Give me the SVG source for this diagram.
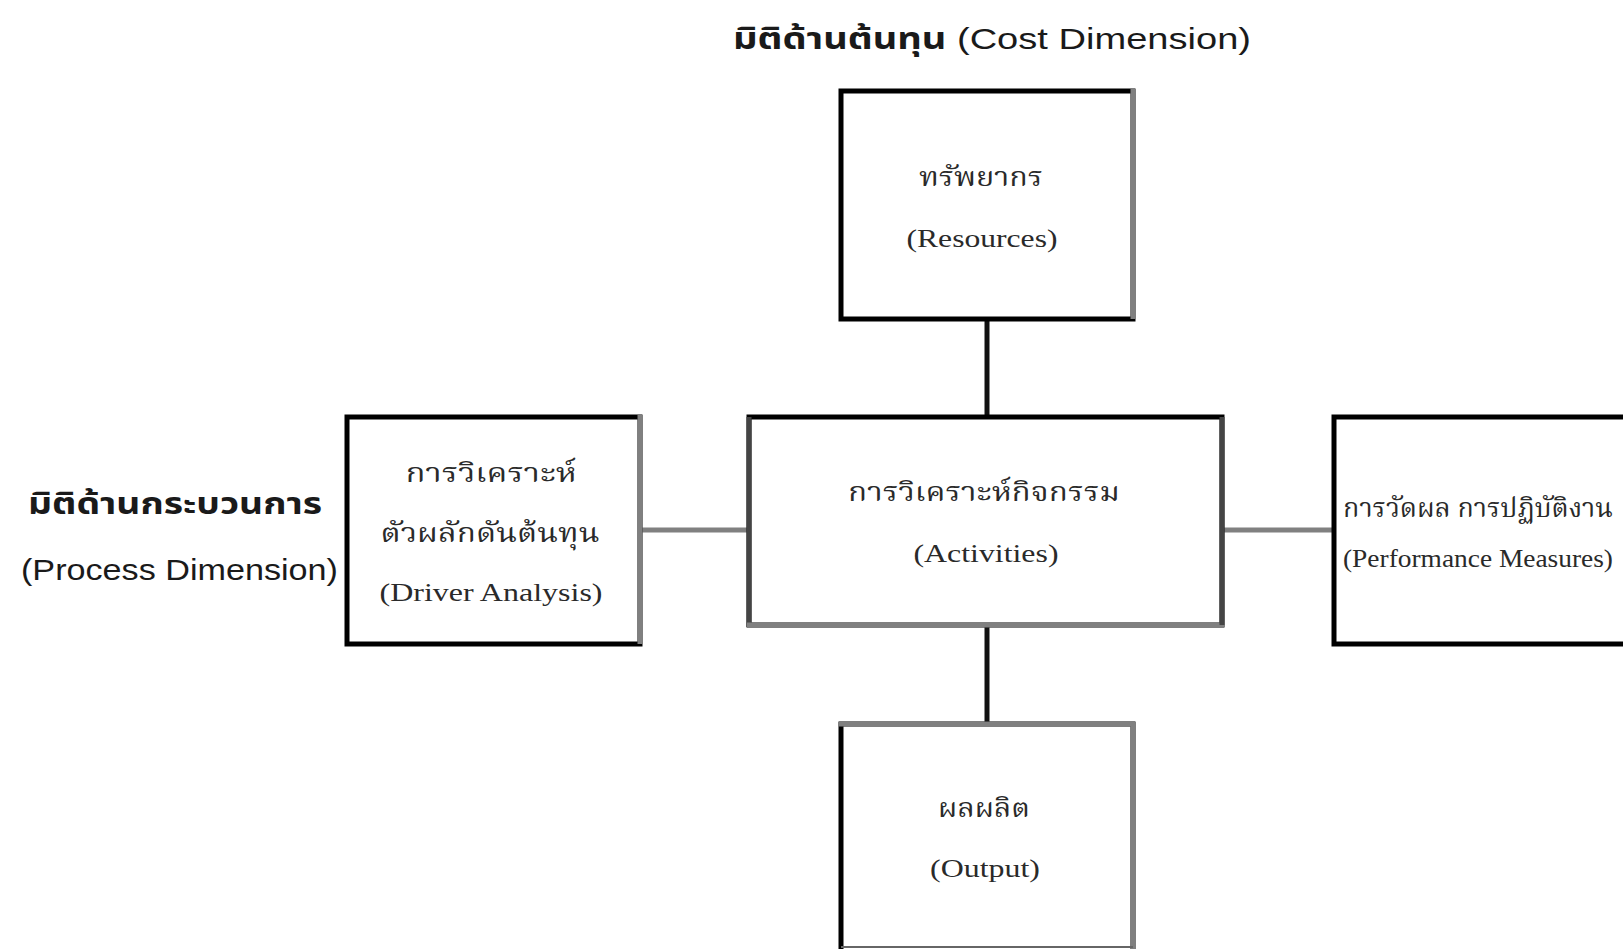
<svg xmlns="http://www.w3.org/2000/svg" width="1623" height="949" viewBox="0 0 1623 949">
<style>
.bg{fill:#fff}
.box{fill:#fff;stroke:#000;stroke-width:5}
.gray{stroke:#808080;stroke-width:5;fill:none}
.dark{stroke:#444;stroke-width:5;fill:none}
.conv{stroke:#111;stroke-width:5;fill:none}
.conh{stroke:#808080;stroke-width:5;fill:none}
.dim{font-family:"Liberation Sans","Noto Sans Thai","Noto Sans",sans-serif;font-size:30px;fill:#1a1a1a}
.dimth{font-weight:bold}
.lbl{font-family:"Liberation Serif","Noto Serif Thai","Noto Sans Thai",serif;font-size:26px;fill:#2a2a2a;text-anchor:middle}
</style>
<rect class="bg" x="0" y="0" width="1623" height="949"/>
<g id="connectors">
<line class="conv" x1="987" y1="321" x2="987" y2="416"/>
<line class="conv" x1="987" y1="626" x2="987" y2="723"/>
<line class="conh" x1="642" y1="530" x2="748" y2="530"/>
<line class="conh" x1="1223" y1="530" x2="1333" y2="530"/>
</g>
<g id="title-cost">
<text class="dim" x="733" y="49" textLength="518" lengthAdjust="spacingAndGlyphs"><tspan class="dimth">มิติด้านต้นทุน</tspan> (Cost Dimension)</text>
</g>
<g id="title-process">
<text class="dim dimth" x="28" y="514" textLength="294" lengthAdjust="spacingAndGlyphs">มิติด้านกระบวนการ</text>
<text class="dim" x="21" y="580" textLength="317" lengthAdjust="spacingAndGlyphs">(Process Dimension)</text>
</g>
<g id="resources">
<rect class="box" x="841" y="91" width="292" height="228"/>
<line class="gray" x1="1133" y1="89" x2="1133" y2="319"/>
<text class="lbl" x="981" y="186" textLength="124" lengthAdjust="spacingAndGlyphs">ทรัพยากร</text>
<text class="lbl" x="982" y="247" textLength="151" lengthAdjust="spacingAndGlyphs">(Resources)</text>
</g>
<g id="activities">
<rect class="box" x="749" y="417" width="473" height="208"/>
<line class="dark" x1="749" y1="417" x2="749" y2="627"/>
<line class="gray" x1="747" y1="625" x2="1224" y2="625"/>
<line class="dark" x1="1222" y1="417" x2="1222" y2="625"/>
<text class="lbl" x="984" y="501" textLength="272" lengthAdjust="spacingAndGlyphs">การวิเคราะห์กิจกรรม</text>
<text class="lbl" x="986" y="562" textLength="145" lengthAdjust="spacingAndGlyphs">(Activities)</text>
</g>
<g id="driver">
<rect class="box" x="347" y="417" width="293" height="227"/>
<line class="gray" x1="640" y1="415" x2="640" y2="644"/>
<text class="lbl" x="491" y="482" textLength="171" lengthAdjust="spacingAndGlyphs">การวิเคราะห์</text>
<text class="lbl" x="490" y="542" textLength="219" lengthAdjust="spacingAndGlyphs">ตัวผลักดันต้นทุน</text>
<text class="lbl" x="491" y="601" textLength="223" lengthAdjust="spacingAndGlyphs">(Driver Analysis)</text>
</g>
<g id="performance">
<rect class="box" x="1334" y="417" width="300" height="227"/>
<text class="lbl" x="1478" y="517" textLength="270" lengthAdjust="spacingAndGlyphs">การวัดผล การปฏิบัติงาน</text>
<text class="lbl" x="1478" y="567" textLength="270" lengthAdjust="spacingAndGlyphs">(Performance Measures)</text>
</g>
<g id="output">
<rect class="box" x="841" y="724" width="292" height="240"/>
<line class="gray" x1="839" y1="724" x2="1135" y2="724"/>
<line class="gray" x1="1133" y1="724" x2="1133" y2="949"/>
<line x1="841" y1="947" x2="1133" y2="947" stroke="#666" stroke-width="2"/>
<text class="lbl" x="984" y="817" textLength="92" lengthAdjust="spacingAndGlyphs">ผลผลิต</text>
<text class="lbl" x="985" y="877" textLength="110" lengthAdjust="spacingAndGlyphs">(Output)</text>
</g>
</svg>
